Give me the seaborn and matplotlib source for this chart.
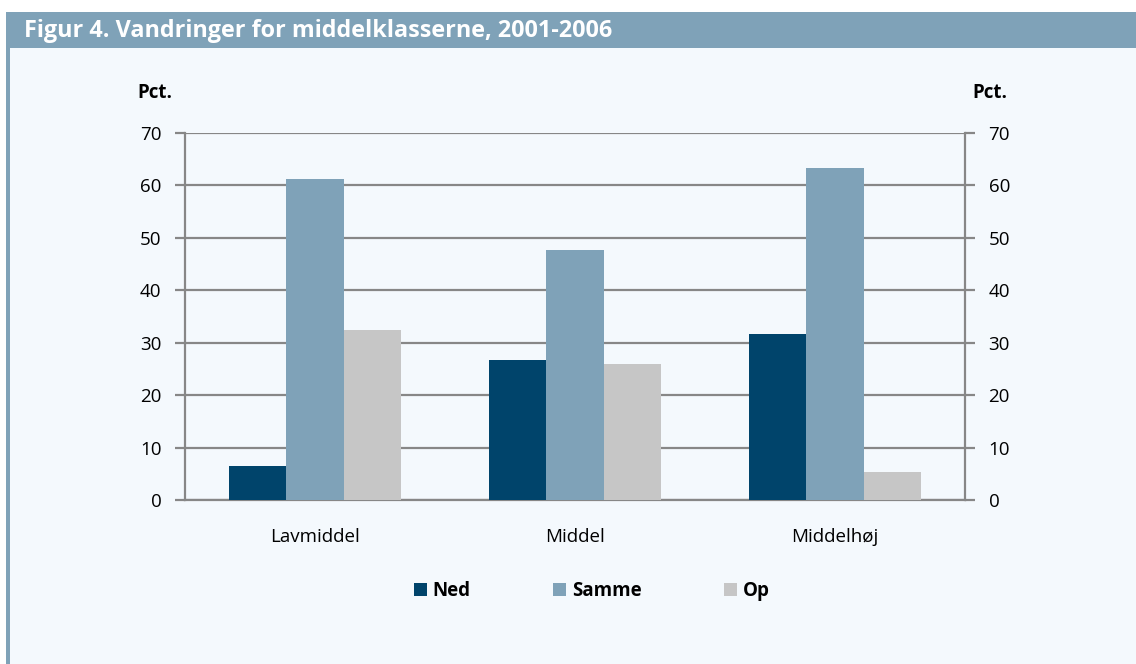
import pandas as pd
import matplotlib
matplotlib.use("Agg")
import matplotlib.pyplot as plt
from matplotlib.patches import Rectangle
import seaborn as sns

# Data
klasser = ["Lavmiddel", "Middel", "Middelhøj"]
retninger = ["Ned", "Samme", "Op"]
ned = [6.5, 26.7, 31.7]
samme = [61.3, 47.7, 63.3]
op = [32.4, 26.0, 5.4]
yticks = [0, 10, 20, 30, 40, 50, 60, 70]

colors = {"Ned": "#00446B", "Samme": "#7FA2B8", "Op": "#C6C6C6"}
bg = "#F4F9FD"
grid_col = "#878787"

df = pd.DataFrame({
    "klasse": klasser * 3,
    "retning": ["Ned"] * 3 + ["Samme"] * 3 + ["Op"] * 3,
    "pct": ned + samme + op,
})

sns.set_style("white")
plt.rcParams["font.family"] = ["Open Sans", "DejaVu Sans"]
plt.rcParams["text.color"] = "black"
plt.rcParams["xtick.labelcolor"] = "black"
plt.rcParams["ytick.labelcolor"] = "black"

fig = plt.figure(figsize=(11.36, 6.64), dpi=100)
fig.patch.set_facecolor("white")

# panel background, title bar and left strip (behind the axes)
fig.patches.append(Rectangle((6 / 1136, 0), 1, 1 - 48 / 664, transform=fig.transFigure,
                             facecolor=bg, edgecolor="none", zorder=-2))
fig.patches.append(Rectangle((6 / 1136, 1 - 48 / 664), 1, 36 / 664, transform=fig.transFigure,
                             facecolor="#7FA2B8", edgecolor="none", zorder=-2))
fig.patches.append(Rectangle((6 / 1136, 0), 4 / 1136, 1 - 48 / 664, transform=fig.transFigure,
                             facecolor="#7FA2B8", edgecolor="none", zorder=-2))
fig.text(24 / 1136, 1 - 31 / 664, "Figur 4. Vandringer for middelklasserne, 2001-2006",
         color="white", fontsize=16.8, fontweight="bold", va="center", ha="left")

ax = fig.add_axes([185 / 1136, 1 - 500 / 664, 780 / 1136, 367 / 664])
ax.set_facecolor(bg)
sns.barplot(data=df, x="klasse", y="pct", hue="retning", hue_order=retninger,
            palette=colors, width=0.66, saturation=1, ax=ax, legend=False,
            edgecolor="none", zorder=3)

ax.set_xlim(-0.5, 2.5)
ax.set_ylim(0, 70)
ax.set_yticks(yticks)
ax.yaxis.grid(True, color=grid_col, linewidth=1.6, zorder=1)
ax.set_axisbelow(True)
ax.set_xlabel("")
ax.set_ylabel("")
for s in ["left", "right", "bottom"]:
    ax.spines[s].set_color(grid_col)
    ax.spines[s].set_linewidth(1.6)
ax.spines["top"].set_visible(False)

ax.set_xticks([0, 1, 2])
ax.set_xticklabels(klasser)
ax.set_xticks([-0.5, 0.5, 1.5, 2.5], minor=True)
ax.tick_params(axis="x", which="major", length=0, pad=20, labelsize=13.5)
ax.tick_params(axis="x", which="minor", length=6, width=1.6, color=grid_col, direction="out")
ax.tick_params(axis="y", length=7, width=1.6, color=grid_col, direction="out", labelsize=13.5,
               left=True, pad=10)

ax2 = ax.twinx()
ax2.set_ylim(0, 70)
ax2.set_yticks(yticks)
ax2.tick_params(axis="y", length=7, width=1.6, color=grid_col, direction="out", labelsize=13.5, pad=10)
for s in ax2.spines.values():
    s.set_visible(False)

fig.text(137 / 1136, 1 - 93 / 664, "Pct.", fontsize=13.5, fontweight="bold", va="center", ha="left")
fig.text(972 / 1136, 1 - 93 / 664, "Pct.", fontsize=13.5, fontweight="bold", va="center", ha="left")

handles = [Rectangle((0, 0), 1, 1, facecolor=colors[r], edgecolor="none") for r in retninger]
leg = fig.legend(handles, retninger, loc="center", bbox_to_anchor=(592 / 1136, 1 - 591 / 664),
                 ncol=3, frameon=False, handlelength=0.7, handleheight=0.7, handletextpad=0.3,
                 columnspacing=4.4, prop={"weight": "bold", "size": 13.5})

fig.savefig("out.png", dpi=100, facecolor=fig.get_facecolor())
